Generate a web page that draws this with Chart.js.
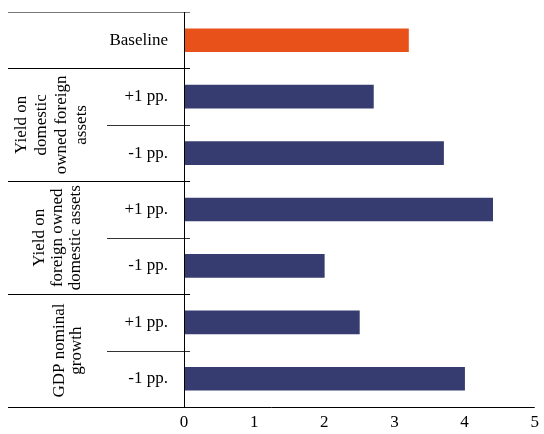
<!DOCTYPE html>
<html>
<head>
<meta charset="utf-8">
<script src="https://cdn.jsdelivr.net/npm/chart.js@4/dist/chart.umd.min.js"></script>
<style>
html,body{margin:0;padding:0;background:#fff;}
#wrap{width:544px;height:434px;position:relative;}
</style>
</head>
<body>
<div id="wrap"><canvas id="c" width="544" height="434"></canvas></div>
<script>
const categories = ["Baseline", "+1 pp.", "-1 pp.", "+1 pp.", "-1 pp.", "+1 pp.", "-1 pp."];
const values = [3.2, 2.7, 3.7, 4.4, 2.0, 2.5, 4.0];
const barColors = ["#E8521A", "#363C70", "#363C70", "#363C70", "#363C70", "#363C70", "#363C70"];
const xTicks = [0, 1, 2, 3, 4, 5];
const groupLabels = [
  ["Yield on", "domestic", "owned foreign", "assets"],
  ["Yield on", "foreign owned", "domestic assets"],
  ["GDP nominal", "growth"]
];
const groupSpans = [[1, 2], [3, 4], [5, 6]];

const FONT = '"Liberation Serif", "Times New Roman", serif';

const groupPlugin = {
  id: 'groups',
  afterDraw(chart) {
    const ctx = chart.ctx;
    const ca = chart.chartArea;
    const ys = chart.scales.y;
    const mid = (i) => (ys.getPixelForValue(i) + ys.getPixelForValue(i + 1)) / 2;
    const leftEdge = 8, innerLeft = 107, tickRight = ca.left + 6;
    ctx.save();
    ctx.lineWidth = 1;
    const hline = (y, x1, x2, col) => {
      ctx.strokeStyle = col;
      ctx.beginPath();
      ctx.moveTo(x1, Math.round(y) + 0.5);
      ctx.lineTo(x2, Math.round(y) + 0.5);
      ctx.stroke();
    };
    hline(ca.top, leftEdge, tickRight, '#777');
    hline(mid(0), leftEdge, tickRight, '#000');
    groupSpans.forEach((s, gi) => {
      for (let i = s[0]; i < s[1]; i++) hline(mid(i), innerLeft, tickRight, '#333');
      if (gi < groupSpans.length - 1) hline(mid(s[1]), leftEdge, tickRight, '#000');
    });
    hline(ca.bottom, leftEdge, ca.right, '#000');
    ctx.strokeStyle = '#000';
    ctx.beginPath();
    ctx.moveTo(Math.round(ca.left) + 0.5, ca.top);
    ctx.lineTo(Math.round(ca.left) + 0.5, ca.bottom);
    ctx.stroke();
    const centers = [52, 58, 68];
    const lh = [20, 18, 17];
    ctx.fillStyle = '#000';
    ctx.font = '17px ' + FONT;
    ctx.textAlign = 'center';
    ctx.textBaseline = 'middle';
    groupSpans.forEach((s, gi) => {
      const yc = (mid(s[0] - 1) + mid(s[1])) / 2;
      const lines = groupLabels[gi];
      const n = lines.length;
      lines.forEach((t, li) => {
        const x = centers[gi] + (li - (n - 1) / 2) * lh[gi];
        ctx.save();
        ctx.translate(x, yc);
        ctx.rotate(-Math.PI / 2);
        ctx.fillText(t, 0, 0);
        ctx.restore();
      });
    });
    ctx.restore();
  }
};

new Chart(document.getElementById('c'), {
  type: 'bar',
  data: {
    labels: categories,
    datasets: [{
      data: values,
      backgroundColor: barColors,
      borderWidth: 0,
      barThickness: 23
    }]
  },
  options: {
    indexAxis: 'y',
    responsive: false,
    animation: false,
    devicePixelRatio: 1,
    layout: { padding: { left: 0, right: 9, top: 12, bottom: 0 } },
    plugins: { legend: { display: false }, tooltip: { enabled: false } },
    scales: {
      x: {
        min: 0, max: 5,
        afterBuildTicks(scale) { scale.ticks = xTicks.map(v => ({ value: v })); },
        afterFit(scale) { scale.height = 27; },
        grid: { display: false, drawTicks: false },
        border: { display: false },
        ticks: { color: '#000', font: { family: FONT, size: 17 }, padding: 5, maxRotation: 0 }
      },
      y: {
        afterFit(scale) { scale.width = 184; scale.paddingTop = 0; scale.paddingBottom = 0; },
        grid: { display: false, drawTicks: false },
        border: { display: false },
        ticks: { color: '#000', font: { family: FONT, size: 17 }, padding: 16, autoSkip: false }
      }
    }
  },
  plugins: [groupPlugin]
});
</script>
</body>
</html>
